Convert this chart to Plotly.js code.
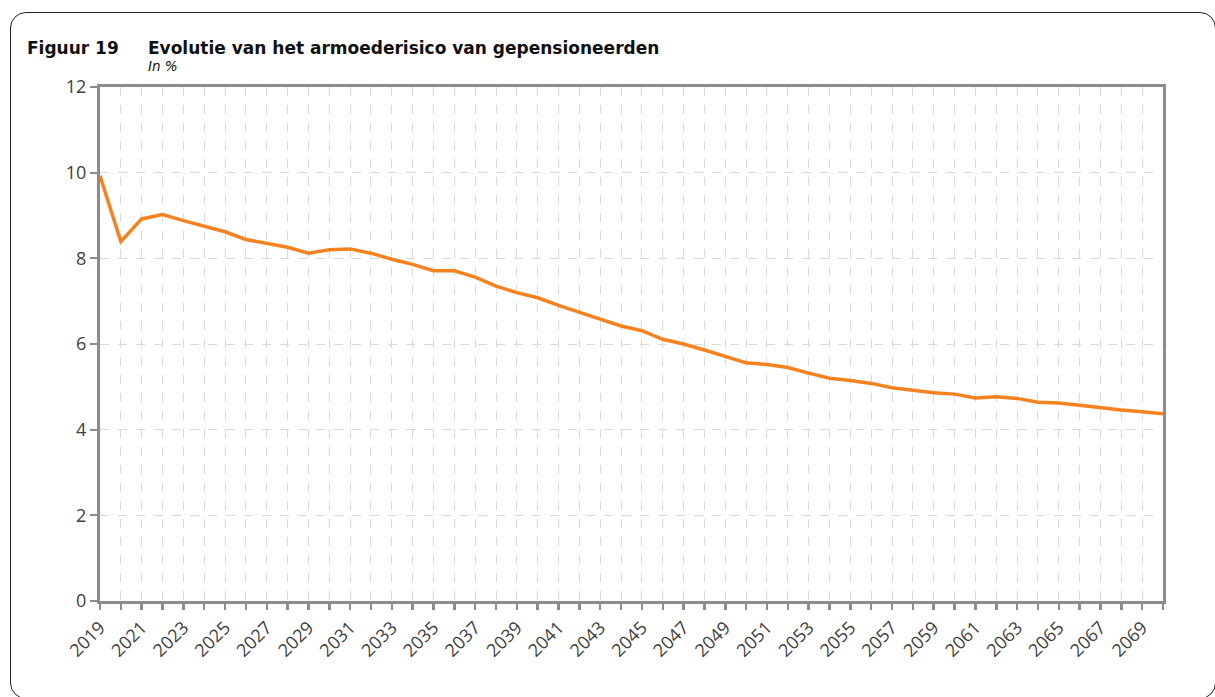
<!DOCTYPE html>
<html>
<head>
<meta charset="utf-8">
<script src="https://cdn.plot.ly/plotly-3.0.1.min.js"></script>
<style>
  html, body { margin: 0; padding: 0; background: #fff; }
  #wrap { position: relative; width: 1215px; height: 697px; overflow: hidden; }
  #frame { position: absolute; left: 10px; top: 12px; width: 1206px; height: 687px;
           border: 1.5px solid #222; border-radius: 16px; box-sizing: border-box; }
  #chart { position: absolute; left: 0; top: 0; width: 1215px; height: 697px; }
</style>
</head>
<body>
<div id="wrap">
  <div id="frame"></div>
  <div id="chart"></div>
</div>
<script>
const years = [];
for (let y = 2019; y <= 2070; y++) years.push(y);

const povertyRisk = [
  9.93, 8.39, 8.92, 9.02, 8.88, 8.74, 8.62, 8.44, 8.36, 8.26,
  8.12, 8.20, 8.22, 8.12, 7.98, 7.86, 7.71, 7.71, 7.56, 7.35,
  7.20, 7.08, 6.90, 6.75, 6.58, 6.42, 6.31, 6.11, 6.00, 5.86,
  5.72, 5.56, 5.52, 5.45, 5.32, 5.20, 5.15, 5.08, 4.98, 4.91,
  4.86, 4.83, 4.74, 4.77, 4.73, 4.64, 4.62, 4.57, 4.51, 4.46,
  4.42, 4.37
];

const tickLabels = years.map(y => (y % 2 === 1 && y < 2070) ? String(y) : "");

const trace = {
  x: years,
  y: povertyRisk,
  type: 'scatter',
  mode: 'lines',
  line: { color: '#F5821F', width: 3.5 },
  hoverinfo: 'x+y'
};

const layout = {
  width: 1215,
  height: 697,
  paper_bgcolor: 'rgba(0,0,0,0)',
  plot_bgcolor: 'rgba(0,0,0,0)',
  margin: { l: 100, r: 52, t: 87, b: 96 },
  showlegend: false,
  font: { family: 'Open Sans, sans-serif', color: '#404040', size: 18 },
  xaxis: {
    range: [2019, 2070],
    tickmode: 'array',
    tickvals: years,
    ticktext: tickLabels,
    tickangle: -45,
    ticks: 'outside',
    ticklen: 6,
    tickwidth: 2.5,
    tickcolor: '#8c8c8c',
    showline: true,
    linecolor: '#8c8c8c',
    linewidth: 3,
    mirror: true,
    showgrid: true,
    gridcolor: '#d9d9d9',
    griddash: 'dash',
    gridwidth: 1,
    zeroline: false,
    tickfont: { family: 'Open Sans, sans-serif', size: 18, color: '#404040' }
  },
  yaxis: {
    range: [0, 12],
    tickvals: [0, 2, 4, 6, 8, 10, 12],
    ticks: 'outside',
    ticklen: 7,
    tickwidth: 2,
    tickcolor: '#8c8c8c',
    showline: true,
    linecolor: '#8c8c8c',
    linewidth: 3,
    mirror: true,
    showgrid: true,
    gridcolor: '#d9d9d9',
    griddash: 'dash',
    gridwidth: 1,
    zeroline: false,
    tickfont: { family: 'Open Sans, sans-serif', size: 18, color: '#404040' }
  },
  annotations: [
    {
      text: '<b>Figuur 19</b>', xref: 'paper', yref: 'paper',
      x: -0.0706, y: 1.0758, xanchor: 'left', yanchor: 'middle', showarrow: false,
      font: { family: 'DejaVu Sans, sans-serif', size: 17, color: '#111' }
    },
    {
      text: '<b>Evolutie van het armoederisico van gepensioneerden</b>', xref: 'paper', yref: 'paper',
      x: 0.0433, y: 1.0758, xanchor: 'left', yanchor: 'middle', showarrow: false,
      font: { family: 'DejaVu Sans, sans-serif', size: 17, color: '#111' }
    },
    {
      text: '<i>In %</i>', xref: 'paper', yref: 'paper',
      x: 0.0433, y: 1.0405, xanchor: 'left', yanchor: 'middle', showarrow: false,
      font: { family: 'DejaVu Sans, sans-serif', size: 13.5, color: '#111' }
    }
  ]
};

Plotly.newPlot('chart', [trace], layout, { displayModeBar: false, staticPlot: true });
</script>
</body>
</html>
